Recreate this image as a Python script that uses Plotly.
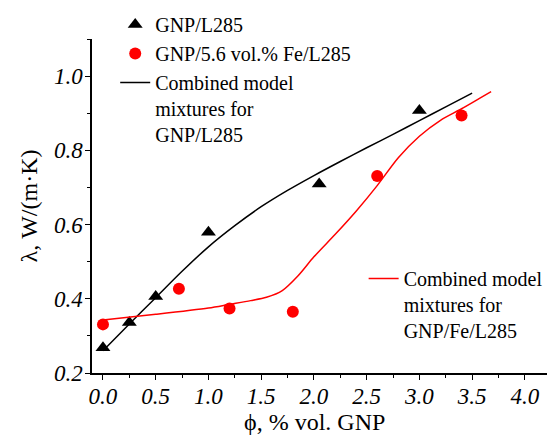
import plotly.graph_objects as go

# Measured data
gnp_x = [0.0, 0.25, 0.5, 1.0, 2.05, 3.0]
gnp_y = [0.268, 0.336, 0.406, 0.579, 0.709, 0.907]

fe_x = [0.0, 0.72, 1.2, 1.8, 2.6, 3.4]
fe_y = [0.331, 0.427, 0.374, 0.365, 0.731, 0.894]

model_gnp_x = [0.0, 0.25, 0.5, 0.75, 1.0, 1.25, 1.5, 1.75, 2.0, 2.25, 2.5, 2.75, 3.0, 3.25, 3.5]
model_gnp_y = [0.26, 0.332, 0.403, 0.474, 0.54, 0.597, 0.648, 0.692, 0.732, 0.77, 0.807, 0.843, 0.88, 0.917, 0.954]

model_fe_x = [0.0, 0.5, 1.0, 1.2, 1.4, 1.55, 1.7, 1.85, 2.0, 2.2, 2.4, 2.6, 2.8, 3.0, 3.2, 3.4, 3.57, 3.68]
model_fe_y = [0.343, 0.358, 0.375, 0.385, 0.395, 0.404, 0.422, 0.462, 0.513, 0.573, 0.636, 0.705, 0.78, 0.838, 0.881, 0.912, 0.94, 0.958]

x_ticks = [0.0, 0.5, 1.0, 1.5, 2.0, 2.5, 3.0, 3.5, 4.0]
y_ticks = [0.2, 0.4, 0.6, 0.8, 1.0]

x_title = "ϕ, % vol. GNP"
y_title = "λ, W/(m·K)"

SERIF = "Liberation Serif"

fig = go.Figure()
fig.add_trace(go.Scatter(
    x=gnp_x, y=gnp_y, mode="markers", name="GNP/L285",
    marker=dict(symbol="triangle-up", size=13, color="black"),
    legend="legend"))
fig.add_trace(go.Scatter(
    x=fe_x, y=fe_y, mode="markers", name="GNP/5.6 vol.% Fe/L285",
    marker=dict(symbol="circle", size=12, color="#ff0000"),
    legend="legend"))
fig.add_trace(go.Scatter(
    x=model_gnp_x, y=model_gnp_y, mode="lines",
    name="Combined model<br>mixtures for<br>GNP/L285",
    line=dict(color="black", width=1.5, shape="spline", smoothing=0.8),
    legend="legend"))
fig.add_trace(go.Scatter(
    x=model_fe_x, y=model_fe_y, mode="lines",
    name="Combined model<br>mixtures for<br>GNP/Fe/L285",
    line=dict(color="#ff0000", width=1.5, shape="spline", smoothing=0.8),
    legend="legend2"))

fig.update_layout(
    width=548, height=439,
    margin=dict(l=92, r=1, t=39, b=66, autoexpand=False),
    paper_bgcolor="white", plot_bgcolor="white",
    font=dict(family=SERIF, size=20, color="black"),
    showlegend=True,
    legend=dict(
        x=0.051, y=1.102,
        xanchor="left", yanchor="top", bgcolor="rgba(0,0,0,0)",
        font=dict(family=SERIF, size=20, color="black"),
        valign="top", tracegroupgap=0),
    legend2=dict(
        x=0.597, y=0.341,
        xanchor="left", yanchor="top", bgcolor="rgba(0,0,0,0)",
        font=dict(family=SERIF, size=20, color="black"),
        valign="top"),
    xaxis=dict(
        range=[-0.104, 4.21], tickvals=x_ticks,
        ticktext=[f"{v:.1f}" for v in x_ticks],
        showline=True, linecolor="black", linewidth=1.5,
        ticks="outside", ticklen=5, tickwidth=1.2, tickcolor="black",
        minor=dict(dtick=0.25, tick0=0, ticks="outside", ticklen=3, tickwidth=1.2, tickcolor="black"),
        showgrid=False, zeroline=False,
        tickfont=dict(family=SERIF, size=23, style="italic", color="black"),
        ticklabelstandoff=-3,
    ),
    yaxis=dict(
        range=[0.2, 1.1], tickvals=y_ticks,
        ticktext=[f"{v:.1f}" for v in y_ticks],
        showline=True, linecolor="black", linewidth=1.5,
        ticks="outside", ticklen=5, tickwidth=1.2, tickcolor="black",
        minor=dict(dtick=0.1, tick0=0.2, ticks="outside", ticklen=3, tickwidth=1.2, tickcolor="black"),
        showgrid=False, zeroline=False,
        tickfont=dict(family=SERIF, size=23, style="italic", color="black"),
        ticklabelstandoff=-2,
        title=dict(text=y_title, font=dict(family=SERIF, size=24, color="black"), standoff=10),
    ),
    annotations=[dict(
        text=x_title, xref="paper", yref="paper", x=0.488, y=-0.192,
        xanchor="center", yanchor="bottom", showarrow=False,
        font=dict(family=SERIF, size=24, color="black"))],
)

fig.write_html("out.html", config={"displayModeBar": False},
               post_script="document.body.style.margin='0px';")
